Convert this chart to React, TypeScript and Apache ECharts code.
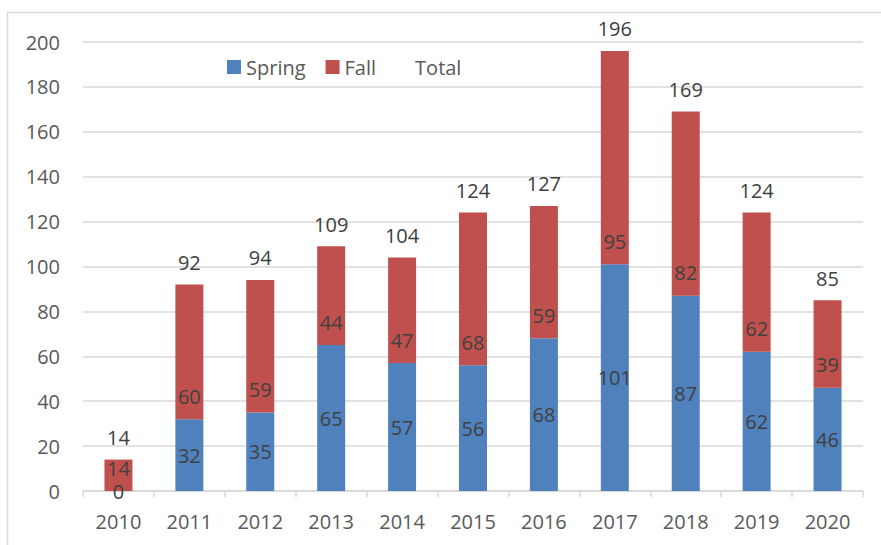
import React, { useEffect, useRef } from "react";
import * as echarts from "echarts";

const years = ["2010", "2011", "2012", "2013", "2014", "2015", "2016", "2017", "2018", "2019", "2020"];
const spring = [0, 32, 35, 65, 57, 56, 68, 101, 87, 62, 46];
const fall = [14, 60, 59, 44, 47, 68, 59, 95, 82, 62, 39];
const total = [14, 92, 94, 109, 104, 124, 127, 196, 169, 124, 85];

const FONT = "'Open Sans', 'Liberation Sans', sans-serif";

export default function App() {
  const ref = useRef<HTMLDivElement>(null);
  useEffect(() => {
    document.body.style.margin = "0";
    const chart = echarts.init(ref.current!, null, { renderer: "svg" });
    chart.setOption({
      animation: false,
      textStyle: { fontFamily: FONT },
      graphic: [
        {
          type: "rect",
          shape: { x: 7.5, y: 12.5, width: 1000, height: 1000 },
          style: { fill: "none", stroke: "#d9d9d9", lineWidth: 1.5 },
          silent: true,
        },
      ],
      legend: {
        left: 222,
        top: 52,
        itemWidth: 14,
        itemHeight: 14,
        itemGap: 20,
        textStyle: { fontSize: 20, color: "#595959", fontFamily: FONT },
        data: [
          { name: "Spring", icon: "rect" },
          { name: "Fall", icon: "rect" },
          { name: "Total", icon: "rect", itemStyle: { color: "rgba(0,0,0,0)", borderWidth: 0 } },
        ],
      },
      grid: { left: 83, right: 18, top: 42, bottom: 54 },
      xAxis: {
        type: "category",
        data: years,
        axisLine: { lineStyle: { color: "#d9d9d9", width: 1.5 } },
        axisTick: { show: true, length: 6, lineStyle: { color: "#d9d9d9", width: 1.5 } },
        axisLabel: { fontSize: 20, color: "#595959", margin: 20, fontFamily: FONT },
      },
      yAxis: {
        type: "value",
        min: 0,
        max: 200,
        interval: 20,
        axisLine: { show: false },
        axisTick: { show: false },
        splitLine: { lineStyle: { color: "#d9d9d9", width: 1.5 } },
        axisLabel: { fontSize: 20, color: "#595959", margin: 23, fontFamily: FONT },
      },
      series: [
        {
          name: "Spring",
          type: "bar",
          stack: "s",
          barWidth: 28,
          data: spring,
          itemStyle: { color: "#4f81bd" },
          label: { show: true, position: "inside", fontSize: 20, color: "#404040", fontFamily: FONT },
        },
        {
          name: "Fall",
          type: "bar",
          stack: "s",
          barWidth: 28,
          data: fall,
          itemStyle: { color: "#c0504d" },
          label: { show: true, position: "insideBottom", distance: 13, fontSize: 20, color: "#404040", fontFamily: FONT },
        },
        {
          name: "Total",
          type: "line",
          data: total,
          symbol: "circle",
          symbolSize: 2,
          showSymbol: true,
          lineStyle: { width: 0, opacity: 0 },
          itemStyle: { color: "rgba(0,0,0,0)", borderWidth: 0 },
          label: { show: true, position: "top", distance: 11, fontSize: 20, color: "#404040", fontFamily: FONT },
        },
      ],
    });
    return () => chart.dispose();
  }, []);
  return <div ref={ref} style={{ width: 881, height: 545 }} />;
}
